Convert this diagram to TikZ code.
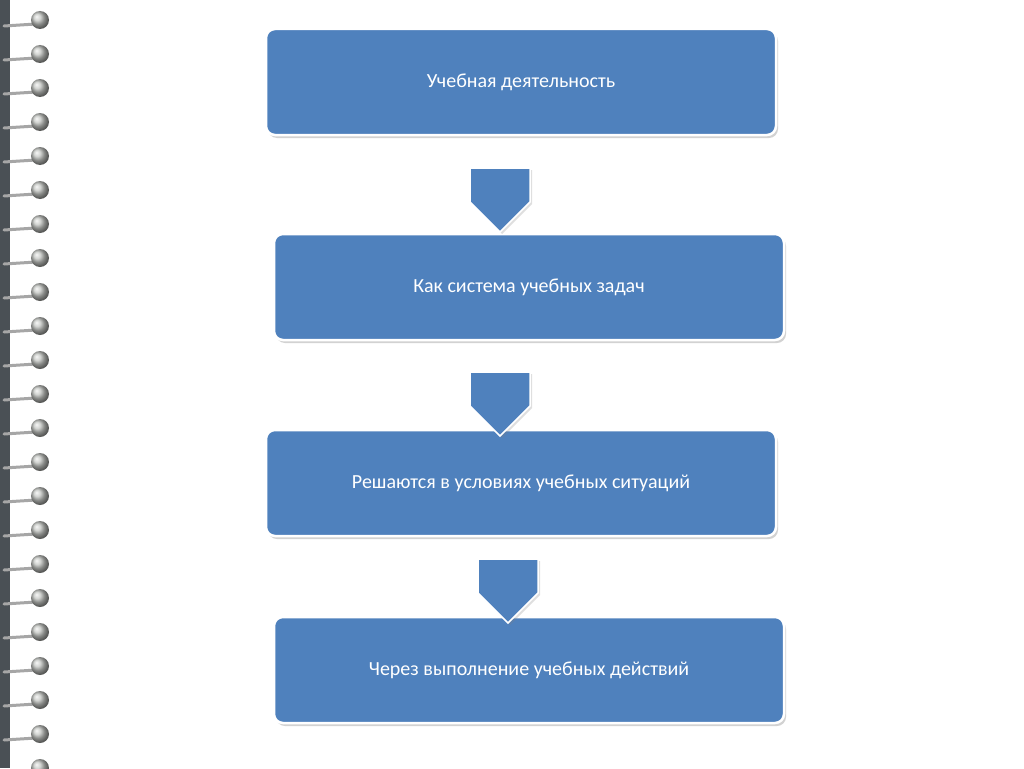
\documentclass[tikz,border=0pt]{standalone}
\usepackage{fontspec}
\setmainfont{Carlito}
\usetikzlibrary{shapes.arrows,shadows}
\definecolor{boxblue}{HTML}{4F81BD}
\definecolor{ringgray}{HTML}{9A9E98}
\definecolor{spine}{HTML}{4A5055}
\begin{document}
\begin{tikzpicture}[x=1pt,y=-1pt,
  stepbox/.style={draw=white,line width=2.5pt,fill=boxblue,rounded corners=9pt,
    minimum width=510pt,minimum height=106pt,text=white,font=\fontsize{20}{24}\selectfont,
    drop shadow={shadow xshift=2pt,shadow yshift=-3pt,opacity=0.35}},
  downarrow/.style={single arrow,draw=white,line width=1.5pt,fill=boxblue,rotate=-90,
    minimum height=64pt,minimum width=60pt,single arrow head extend=0pt,
    single arrow tip angle=90,inner sep=7pt,
    drop shadow={shadow xshift=2pt,shadow yshift=-2pt,opacity=0.25}}]
\useasboundingbox (0,0) rectangle (1024,768);
\fill[white] (0,0) rectangle (1024,768);
\fill[spine] (0,0) rectangle (10,768);
\foreach \i in {0,...,22}{
  \pgfmathsetmacro{\yy}{20+\i*34}
  \draw[line width=3pt,gray!70,line cap=round] (4,\yy+6) -- (36,\yy+4);
  \shade[ball color=ringgray!60] (40,\yy) circle (9);
}
\node[stepbox] (b1) at (521,82) {Учебная деятельность};
\node[stepbox] (b2) at (529,287) {Как система учебных задач};
\node[stepbox] (b3) at (521,483) {Решаются в условиях учебных ситуаций};
\node[stepbox] (b4) at (529,670) {Через выполнение учебных действий};
\node[downarrow] (a1) at (500,185) {};
\node[downarrow] (a2) at (500,389) {};
\node[downarrow] (a3) at (508,576) {};
\end{tikzpicture}
\end{document}
